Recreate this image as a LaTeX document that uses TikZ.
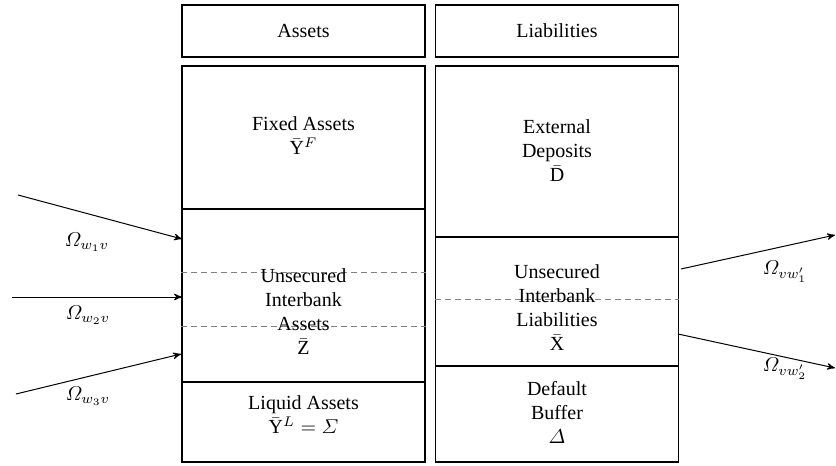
\documentclass[tikz,border=0pt]{standalone}
\usepackage{amsmath}
\usepackage{fontspec}
\setmainfont{Liberation Serif}
\usepackage{tikz}
\usetikzlibrary{arrows, positioning}

\begin{document}
\begin{tikzpicture}[x=0.5pt, y=-0.5pt, line width=0.6pt,
  box/.style={draw, rectangle, minimum width=121.5pt, inner sep=0pt},
  lbl/.style={align=center, inner sep=0pt, font=\normalsize},
  split/.style={draw},
  dsplit/.style={draw, densely dashed, line width=0.3pt, gray},
  flow/.style={draw, -stealth', line width=0.5pt}]

\useasboundingbox (0,0) rectangle (836,466);

% headers
\node [box, minimum height=26pt] (ahead) at (303.5,31) {Assets};
\node [box, minimum height=26pt] (lhead) at (557,31)   {Liabilities};

% main columns
\node [box, minimum height=198pt] (assets) at (303.5,264) {};
\node [box, minimum height=198pt] (liabs)  at (557,264)   {};

% assets splits
\path [split]  (assets.west |- 0,209) -- (assets.east |- 0,209);
\path [dsplit] (assets.west |- 0,272) -- (assets.east |- 0,272);
\path [dsplit] (assets.west |- 0,326) -- (assets.east |- 0,326);
\path [split]  (assets.west |- 0,382) -- (assets.east |- 0,382);

% liabilities splits
\path [split]  (liabs.west |- 0,237) -- (liabs.east |- 0,237);
\path [dsplit] (liabs.west |- 0,299) -- (liabs.east |- 0,299);
\path [split]  (liabs.west |- 0,366) -- (liabs.east |- 0,366);

% asset labels
\node [lbl] (fixed) at (303.5,136) {Fixed Assets\\$\bar{\mathrm{Y}}^{F}$};
\node [lbl] (ibank) at (303.5,312) {Unsecured\\Interbank\\Assets\\$\bar{\mathrm{Z}}$};
\node [lbl] (liq)   at (303.5,415) {Liquid Assets\\$\bar{\mathrm{Y}}^{L}=\varSigma$};

% liability labels
\node [lbl] (ext)  at (557,151) {External\\Deposits\\$\bar{\mathrm{D}}$};
\node [lbl] (ibl)  at (557,308) {Unsecured\\Interbank\\Liabilities\\$\bar{\mathrm{X}}$};
\node [lbl] (buf)  at (557,412) {Default\\Buffer\\$\varDelta$};

% incoming flows
\coordinate (w1) at (18,195);  \coordinate (t1) at (182,239);
\coordinate (w2) at (12,297);  \coordinate (t2) at (182,297);
\coordinate (w3) at (16,394);  \coordinate (t3) at (181,354);
\path [flow] (w1) -- (t1);
\path [flow] (w2) -- (t2);
\path [flow] (w3) -- (t3);
\node [lbl] (o1) at (87,242) {$\varOmega_{w_1v}$};
\node [lbl] (o2) at (88,315) {$\varOmega_{w_2v}$};
\node [lbl] (o3) at (88,396) {$\varOmega_{w_3v}$};

% outgoing flows
\coordinate (s1) at (681,269); \coordinate (v1) at (835,235);
\coordinate (s2) at (678,334); \coordinate (v2) at (835,368);
\path [flow] (s1) -- (v1);
\path [flow] (s2) -- (v2);
\node [lbl] (p1) at (785,272) {$\varOmega_{vw'_1}$};
\node [lbl] (p2) at (785,369) {$\varOmega_{vw'_2}$};

\end{tikzpicture}
\end{document}
